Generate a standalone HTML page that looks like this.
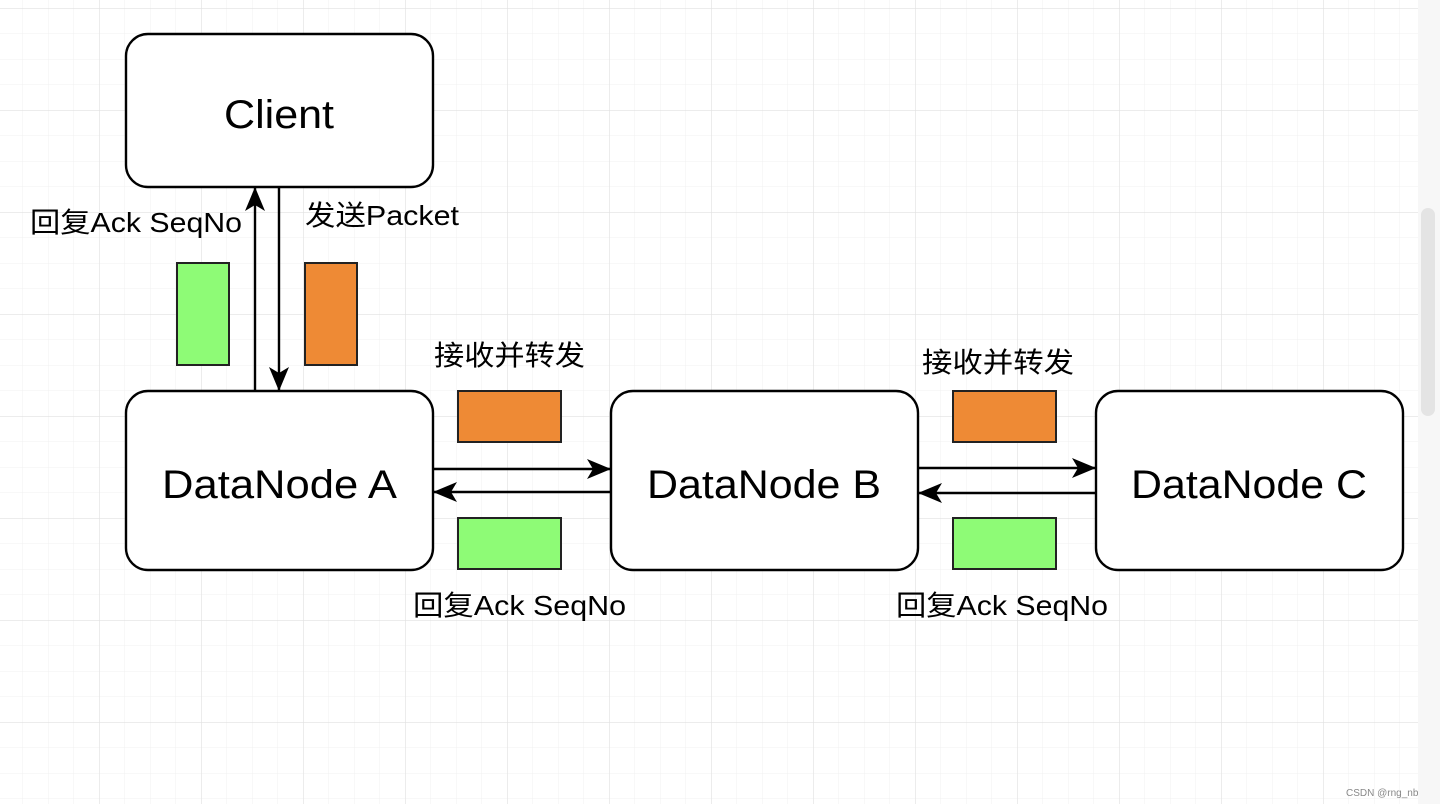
<!DOCTYPE html>
<html><head><meta charset="utf-8"><style>
html,body{margin:0;padding:0;background:#fff;width:1440px;height:804px;overflow:hidden}
svg text{font-family:"Liberation Sans","Noto Sans CJK SC",sans-serif;fill:#000}
</style></head><body>
<svg width="1440" height="804" xmlns="http://www.w3.org/2000/svg">
<defs>
<pattern id="minor" x="99" y="8" width="25.5" height="25.5" patternUnits="userSpaceOnUse">
<path d="M0 0H25.5M0 0V25.5" stroke="#f0f0f0" stroke-width="1" fill="none"/>
</pattern>
<pattern id="major" x="99" y="8" width="102" height="102" patternUnits="userSpaceOnUse">
<path d="M0 0H102M0 0V102" stroke="#e0e0e0" stroke-width="1.2" fill="none"/>
</pattern>
<marker id="ah" viewBox="0 0 24 24" refX="23" refY="12" markerWidth="24" markerHeight="24" markerUnits="userSpaceOnUse" orient="auto">
<path d="M0 2 L24 12 L0 22 L6 12 Z" fill="#000"/>
</marker>
</defs>
<rect width="1418" height="804" fill="url(#minor)"/>
<rect width="1418" height="804" fill="url(#major)"/>
<rect x="1418" y="0" width="22" height="804" fill="#f7f7f7"/>
<rect x="1421" y="208" width="14" height="208" rx="7" fill="#e4e4e4"/>

<g fill="#fff" stroke="#000" stroke-width="2.4">
<rect x="126" y="34" width="307" height="153" rx="22"/>
<rect x="126" y="391" width="307" height="179" rx="22"/>
<rect x="611" y="391" width="307" height="179" rx="22"/>
<rect x="1096" y="391" width="307" height="179" rx="22"/>
</g>

<g stroke="#222" stroke-width="2">
<rect x="177" y="263" width="52" height="102" fill="#8efb76"/>
<rect x="305" y="263" width="52" height="102" fill="#ee8a35"/>
<rect x="458" y="391" width="103" height="51" fill="#ee8a35"/>
<rect x="458" y="518" width="103" height="51" fill="#8efb76"/>
<rect x="953" y="391" width="103" height="51" fill="#ee8a35"/>
<rect x="953" y="518" width="103" height="51" fill="#8efb76"/>
</g>

<g stroke="#000" stroke-width="2.4" fill="none" marker-end="url(#ah)">
<line x1="255" y1="391" x2="255" y2="188"/>
<line x1="279" y1="188" x2="279" y2="390"/>
<line x1="434" y1="469" x2="610" y2="469"/>
<line x1="610" y1="492" x2="434" y2="492"/>
<line x1="919" y1="468" x2="1095" y2="468"/>
<line x1="1095" y1="493" x2="919" y2="493"/>
</g>

<g font-size="40" lengthAdjust="spacingAndGlyphs">
<text x="224" y="128" textLength="110" lengthAdjust="spacingAndGlyphs">Client</text>
<text x="162" y="498" textLength="235" lengthAdjust="spacingAndGlyphs">DataNode A</text>
<text x="647" y="498" textLength="234" lengthAdjust="spacingAndGlyphs">DataNode B</text>
<text x="1131" y="498" textLength="236" lengthAdjust="spacingAndGlyphs">DataNode C</text>
</g>
<g font-size="28">
<text x="30" y="232" textLength="212" lengthAdjust="spacingAndGlyphs">回复Ack SeqNo</text>
<text x="305" y="225" textLength="154" lengthAdjust="spacingAndGlyphs">发送Packet</text>
<text x="434" y="365" textLength="151" lengthAdjust="spacingAndGlyphs">接收并转发</text>
<text x="922" y="372" textLength="152" lengthAdjust="spacingAndGlyphs">接收并转发</text>
<text x="413" y="615" textLength="213" lengthAdjust="spacingAndGlyphs">回复Ack SeqNo</text>
<text x="896" y="615" textLength="212" lengthAdjust="spacingAndGlyphs">回复Ack SeqNo</text>
</g>
<text x="1346" y="796" font-size="10" style="fill:#888">CSDN @rng_nb</text>
</svg>
</body></html>
